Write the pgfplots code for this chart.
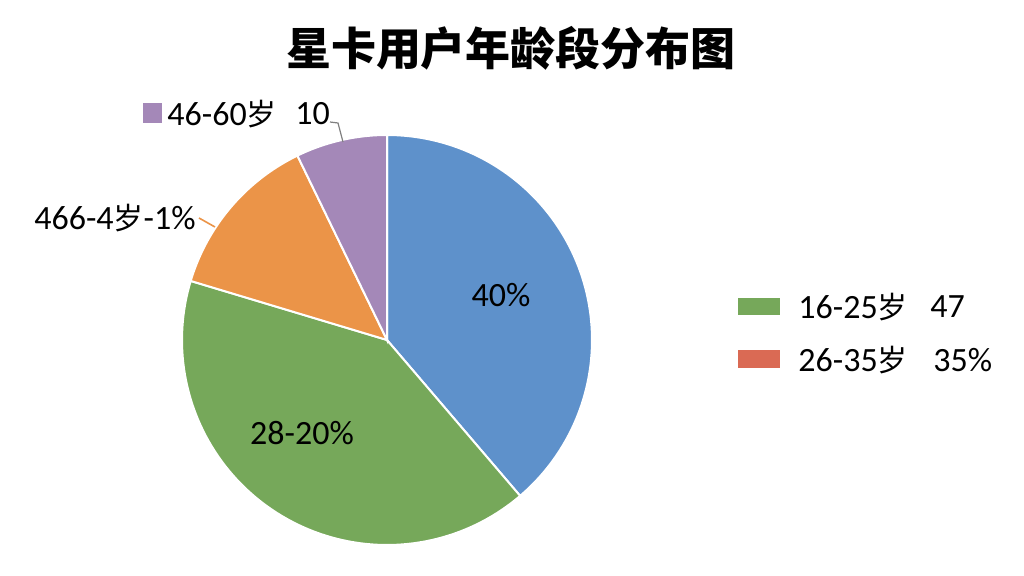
\documentclass[border=0pt]{standalone}
\usepackage{pgfplots}
\pgfplotsset{compat=1.18}
\usepackage{fontspec}
\setmainfont{Carlito}
\newfontfamily\cjk{Noto Sans CJK SC}
\newcommand\sui{{\cjk\fontsize{15}{18}\selectfont 岁}}

\definecolor{cblue}{RGB}{94,145,203}
\definecolor{cgreen}{RGB}{118,168,90}
\definecolor{corange}{RGB}{235,148,72}
\definecolor{cpurple}{RGB}{164,136,184}
\definecolor{cred}{RGB}{218,106,84}

\begin{document}
\begin{tikzpicture}[lbl/.style={font=\fontsize{17}{20}\selectfont}]
% slice shares (percent), clockwise from 12 o'clock
\def\vA{38.75}
\def\vB{40.9}
\def\vC{13.15}
\def\vD{7.2}
\pgfmathsetmacro\aA{90}
\pgfmathsetmacro\aB{\aA-3.6*\vA}
\pgfmathsetmacro\aC{\aB-3.6*\vB}
\pgfmathsetmacro\aD{\aC-3.6*\vC}
\pgfmathsetmacro\aE{\aD-3.6*\vD}
\begin{axis}[
    scale only axis,
    width=512pt, height=288pt,
    xmin=0, xmax=1024, ymin=0, ymax=576,
    y dir=reverse,
    hide axis,
    clip=false,
    every axis plot/.append style={samples=90, variable=\t},
]
% keep the full canvas as the bounding box
\path (axis cs:0,0) rectangle (axis cs:1024,576);
% slices
\addplot[fill=cblue, draw=white, line width=1pt, domain=\aB:\aA]
    ({387+205*cos(\t)}, {340-205*sin(\t)}) -- (axis cs:387,340) -- cycle;
\addplot[fill=cgreen, draw=white, line width=1pt, domain=\aC:\aB]
    ({387+205*cos(\t)}, {340-205*sin(\t)}) -- (axis cs:387,340) -- cycle;
\addplot[fill=corange, draw=white, line width=1pt, domain=\aD:\aC]
    ({387+205*cos(\t)}, {340-205*sin(\t)}) -- (axis cs:387,340) -- cycle;
\addplot[fill=cpurple, draw=white, line width=1pt, domain=\aE:\aD]
    ({387+205*cos(\t)}, {340-205*sin(\t)}) -- (axis cs:387,340) -- cycle;

% leader lines
\addplot[corange, line width=0.8pt, no marks] coordinates {(199,218) (215,227)};
\addplot[gray, line width=0.6pt, no marks] coordinates {(330,122) (338,123) (343,142)};

% labels
\node[font=\fontsize{22.5}{26}\selectfont\cjk\bfseries] at (axis cs:511,48) {星卡用户年龄段分布图};
\node[lbl] at (axis cs:501,295) {40\%};
\node[lbl] at (axis cs:302,433) {28-20\%};
\node[lbl, anchor=east, inner sep=0pt] at (axis cs:196,218) {466-4\sui-1\%};
\fill[cpurple] (axis cs:143,103) rectangle (axis cs:162,123);
\node[lbl, anchor=west, inner sep=0pt] at (axis cs:167,114) {46-60\sui};
\node[lbl, anchor=west, inner sep=0pt] at (axis cs:295,114) {10};

% legend
\fill[cgreen] (axis cs:738,298) rectangle (axis cs:780,315);
\fill[cred] (axis cs:738,350) rectangle (axis cs:780,368);
\node[lbl, anchor=west, inner sep=0pt] at (axis cs:798,307) {16-25\sui};
\node[lbl, anchor=west, inner sep=0pt] at (axis cs:930,307) {47};
\node[lbl, anchor=west, inner sep=0pt] at (axis cs:798,360) {26-35\sui};
\node[lbl, anchor=west, inner sep=0pt] at (axis cs:933,360) {35\%};
\end{axis}
\end{tikzpicture}
\end{document}
